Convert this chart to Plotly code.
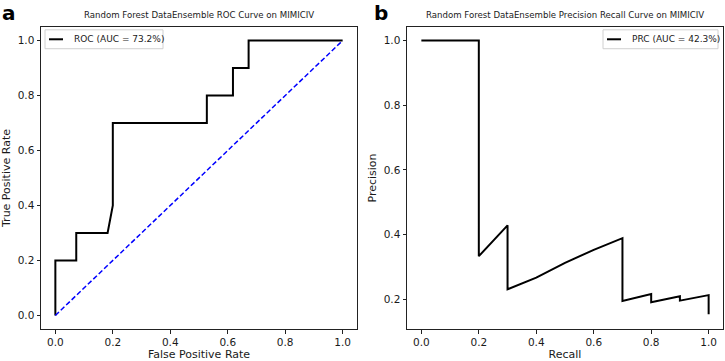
import plotly.graph_objects as go

# ROC data
roc_fpr = [0.0, 0.0, 0.0727, 0.0727, 0.1818, 0.2, 0.2, 0.5273, 0.5273, 0.6182, 0.6182, 0.6727, 0.6727, 1.0]
roc_tpr = [0.0, 0.2, 0.2, 0.3, 0.3, 0.4, 0.7, 0.7, 0.8, 0.8, 0.9, 0.9, 1.0, 1.0]
diag_x = [0.0, 1.0]
diag_y = [0.0, 1.0]

# Precision-recall data
pr_recall = [0.0, 0.2, 0.2, 0.3, 0.3, 0.4, 0.5, 0.6, 0.7, 0.7, 0.8, 0.8, 0.9, 0.9, 1.0, 1.0]
pr_precision = [1.0, 1.0, 0.3333, 0.4286, 0.2308, 0.2667, 0.3125, 0.3529, 0.3889, 0.1944,
                0.2162, 0.1905, 0.2093, 0.1957, 0.2128, 0.1538]

tick_vals = [0.0, 0.2, 0.4, 0.6, 0.8, 1.0]
tick_text = ["0.0", "0.2", "0.4", "0.6", "0.8", "1.0"]

roc_title = "Random Forest DataEnsemble ROC Curve on MIMICIV"
pr_title = "Random Forest DataEnsemble Precision Recall Curve on MIMICIV"
roc_label = "ROC (AUC = 73.2%)"
pr_label = "PRC (AUC = 42.3%)"

W, H = 725, 361
FONT = "DejaVu Sans"
TXT = "#1a1a1a"


def px(x):
    return x / W


def py(y):
    return 1 - y / H


fig = go.Figure()
fig.add_trace(go.Scatter(x=roc_fpr, y=roc_tpr, mode="lines", line=dict(color="black", width=2),
                         showlegend=False, xaxis="x", yaxis="y"))
fig.add_trace(go.Scatter(x=diag_x, y=diag_y, mode="lines",
                         line=dict(color="blue", width=1.5, dash="5px,2.5px"),
                         showlegend=False, xaxis="x", yaxis="y"))
fig.add_trace(go.Scatter(x=pr_recall, y=pr_precision, mode="lines", line=dict(color="black", width=2),
                         showlegend=False, xaxis="x2", yaxis="y2"))

ax_common = dict(showline=True, mirror=True, linecolor="#222", linewidth=1, ticks="outside",
                 ticklen=3.5, tickwidth=1, tickcolor="#222", showgrid=False, zeroline=False,
                 tickvals=tick_vals, ticktext=tick_text,
                 tickfont=dict(family=FONT, size=10.5, color=TXT))

y0, y1 = py(331), py(27)
fig.update_layout(
    width=W, height=H, margin=dict(l=0, r=0, t=0, b=0),
    paper_bgcolor="white", plot_bgcolor="white",
    font=dict(family=FONT, color=TXT),
    xaxis=dict(domain=[px(41), px(357)], range=[-0.05, 1.05], anchor="y",
               title=dict(text="False Positive Rate", font=dict(size=11, color=TXT), standoff=5), **ax_common),
    yaxis=dict(domain=[y0, y1], range=[-0.05, 1.05], anchor="x",
               title=dict(text="True Positive Rate", font=dict(size=11, color=TXT), standoff=4), **ax_common),
    xaxis2=dict(domain=[px(407), px(723)], range=[-0.05, 1.05], anchor="y2",
                title=dict(text="Recall", font=dict(size=11, color=TXT), standoff=5), **ax_common),
    yaxis2=dict(domain=[y0, y1], range=[0.1075, 1.0425], anchor="x2",
                title=dict(text="Precision", font=dict(size=11, color=TXT), standoff=4), **ax_common),
)

annotations = []
shapes = []
# titles
annotations.append(dict(x=px((41 + 357) / 2), y=py(15), xref="paper", yref="paper", text=roc_title,
                        showarrow=False, xanchor="center", yanchor="middle",
                        font=dict(family=FONT, size=8.6, color=TXT)))
annotations.append(dict(x=px((407 + 723) / 2), y=py(15), xref="paper", yref="paper", text=pr_title,
                        showarrow=False, xanchor="center", yanchor="middle",
                        font=dict(family=FONT, size=8.6, color=TXT)))
# panel labels
for lab, xx in (("a", 0), ("b", 372)):
    annotations.append(dict(x=px(xx), y=py(13), xref="paper", yref="paper", text="<b>" + lab + "</b>",
                            showarrow=False, xanchor="left", yanchor="middle",
                            font=dict(family=FONT, size=20, color="black")))

# legends
for (bx0, bx1, label) in ((45, 163, roc_label), (603, 718, pr_label)):
    shapes.append(dict(type="rect", xref="paper", yref="paper", x0=px(bx0), x1=px(bx1),
                       y0=py(49), y1=py(30), line=dict(color="#d0d0d0", width=1), fillcolor="rgba(255,255,255,0.8)"))
    shapes.append(dict(type="line", xref="paper", yref="paper", x0=px(bx0 + 4), x1=px(bx0 + 18),
                       y0=py(39.5), y1=py(39.5), line=dict(color="black", width=2)))
    annotations.append(dict(x=px(bx0 + 27), y=py(39.5), xref="paper", yref="paper", text=label,
                            showarrow=False, xanchor="left", yanchor="middle",
                            font=dict(family=FONT, size=9, color=TXT)))

fig.update_layout(annotations=annotations, shapes=shapes)
fig.write_html("out.html", config={"displayModeBar": False},
               post_script="document.body.style.margin='0';document.body.style.overflow='hidden';")
